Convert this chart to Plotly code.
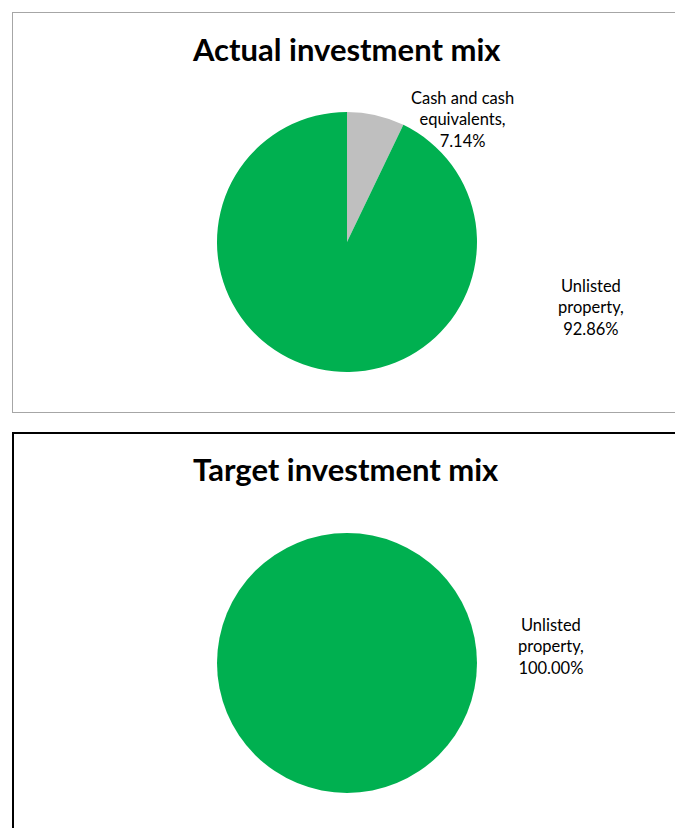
import plotly.graph_objects as go

W, H = 675, 828

categories = ["Cash and cash equivalents", "Unlisted property"]
label_lines = [["Cash and cash", "equivalents,"], ["Unlisted", "property,"]]
actual_values = [7.14, 92.86]
target_values = [0.0, 100.00]
colors = ["#BFBFBF", "#00B050"]
titles = ["Actual investment mix", "Target investment mix"]

FONT = "Lato"

def px(x):
    return x / W

def py(y):
    return 1 - y / H

fig = go.Figure()

# pies
pie_boxes = [(217, 477, 112, 372), (217, 477, 533, 793)]
for vals, (x0, x1, y0, y1) in zip([actual_values, target_values], pie_boxes):
    fig.add_trace(go.Pie(
        labels=categories, values=vals, sort=False, direction="clockwise",
        rotation=0, marker=dict(colors=colors, line=dict(width=0)),
        textinfo="none", hoverinfo="label+percent", showlegend=False,
        domain=dict(x=[px(x0), px(x1)], y=[py(y1), py(y0)]),
    ))

annotations = []
# titles
for t, ty in zip(titles, [49, 469]):
    annotations.append(dict(x=px(346), y=py(ty), xref="paper", yref="paper",
                            text="<b>%s</b>" % t, showarrow=False,
                            font=dict(family=FONT, size=31, color="#000000"),
                            xanchor="center", yanchor="middle"))

def lab(i, v, cx, cy):
    txt = "<br>".join(label_lines[i] + ["%.2f%%" % v])
    annotations.append(dict(x=px(cx), y=py(cy), xref="paper", yref="paper",
                            text=txt, showarrow=False, align="center",
                            font=dict(family=FONT, size=16.5, color="#000000"),
                            xanchor="center", yanchor="middle"))

lab(0, actual_values[0], 462, 120)
lab(1, actual_values[1], 591, 307)
lab(1, target_values[1], 551, 646)

def hline(y, color, width):
    return dict(type="line", xref="paper", yref="paper",
                x0=px(12), x1=1.2, y0=py(y), y1=py(y),
                line=dict(color=color, width=width))

def vline(x, ya, yb, color, width):
    return dict(type="line", xref="paper", yref="paper",
                x0=px(x), x1=px(x), y0=ya, y1=yb,
                line=dict(color=color, width=width))

shapes = [
    hline(12.5, "#A6A6A6", 1),
    hline(412.5, "#A6A6A6", 1),
    vline(12.5, py(412.5), py(12.5), "#A6A6A6", 1),
    hline(433, "#000000", 2),
    vline(13, -0.1, py(432), "#000000", 2),
]

fig.update_layout(width=W, height=H, margin=dict(l=0, r=0, t=0, b=0),
                  paper_bgcolor="white", plot_bgcolor="white",
                  annotations=annotations, shapes=shapes)

fig.write_html("out.html",
               config={"displayModeBar": False},
               post_script="document.body.style.margin='0';"
                           "document.body.style.overflow='hidden';")
